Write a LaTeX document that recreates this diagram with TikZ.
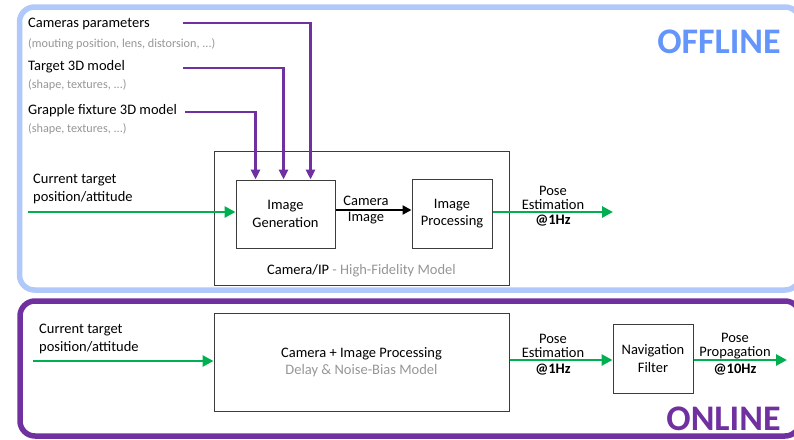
\documentclass[tikz,border=0pt]{standalone}
\usepackage{fontspec}
\setmainfont{Carlito}
\usetikzlibrary{arrows.meta,calc}
\definecolor{offblue}{RGB}{176,200,250}
\definecolor{offtext}{RGB}{100,149,250}
\definecolor{onpurple}{RGB}{112,48,160}
\definecolor{flowgreen}{RGB}{0,176,80}
\definecolor{softgray}{RGB}{150,150,150}
\definecolor{boxgray}{RGB}{60,60,60}
\tikzset{
  txt/.style={font=\fontsize{14.5}{17.5}\selectfont, inner sep=0pt, align=center},
  note/.style={font=\fontsize{12.2}{14}\selectfont, text=softgray, inner sep=0pt, anchor=west},
  block/.style={draw=boxgray, line width=1pt, txt, minimum width=#1},
  frame/.style={line width=5.5pt, rounded corners=15pt},
  banner/.style={font=\fontsize{36}{40}\selectfont\bfseries, inner sep=0pt},
  flow/.style={draw=flowgreen, line width=2.8pt, -{Triangle[length=11pt,width=11pt]}},
  feed/.style={draw=onpurple, line width=2.6pt, -{Triangle[length=10pt,width=9pt]}},
  pipe/.style={draw=black, line width=2.6pt, -{Triangle[length=9pt,width=9pt]}},
  rate/.style={txt, font=\fontsize{14.5}{17.5}\selectfont\bfseries},
  above lbl/.style={txt, font=\fontsize{14.5}{14}\selectfont},
}
\begin{document}
\begin{tikzpicture}[x=1pt,y=-1pt]
\useasboundingbox (0,0) rectangle (794,439);
\begin{scope}
\clip (0,0) rectangle (794,439);
% section frames
\draw[frame, draw=offblue] (19.5,7) rectangle (800,290);
\draw[frame, draw=onpurple] (20,301) rectangle (800,436);
\end{scope}
\node[banner, text=offtext] (offl) at (719,42) {OFFLINE};
\node[banner, text=onpurple] (onl) at (723.5,419) {ONLINE};

% ---------- offline part ----------
\node[txt, anchor=west] (campar) at (28,24) {Cameras parameters};
\node[note] (campar2) at (28,44) {(mouting position, lens, distorsion, ...)};
\node[txt, anchor=west] (tgtmod) at (28,67) {Target 3D model};
\node[note] (tgtmod2) at (28,85) {(shape, textures, ...)};
\node[txt, anchor=west] (grpmod) at (28,111) {Grapple fixture 3D model};
\node[note] (grpmod2) at (28,129) {(shape, textures, ...)};

\draw[draw=boxgray, line width=1pt] (214,151) rectangle (509,285);
\node[txt] (hifi) at (361.5,271) {Camera/IP \textcolor{softgray}{- High-Fidelity Model}};

\node[block=99pt, minimum height=68pt] (gen) at (285.5,214) {Image\\Generation};
\node[block=80pt, minimum height=69pt] (proc) at (452,213.5) {Image\\Processing};

\coordinate (c1) at (183,23);
\coordinate (c2) at (183,68);
\coordinate (c3) at (185,112);
\draw[feed] (c1) -| ($(gen.north west)+(75,0)$);
\draw[feed] (c2) -| ($(gen.north west)+(48,0)$);
\draw[feed] (c3) -| ($(gen.north west)+(20,0)$);

\draw[pipe] (gen.east |- 0,210) -- (proc.west |- 0,210);
\node[txt, font=\fontsize{14.5}{16}\selectfont] (camimg) at (366,210) {Camera\\Image};

\node[txt, anchor=west, align=left] (curA) at (33,189) {Current target\\position/attitude};
\coordinate (inA) at (28,212);
\draw[flow] (inA) -- (inA -| gen.west);

\coordinate (outA) at (613,212);
\draw[flow] (proc.east |- outA) -- (outA);
\node[above lbl] (poseA) at (553,198) {Pose\\Estimation};
\node[rate] (rateA) at (553,221) {@1Hz};

% ---------- online part ----------
\node[txt, anchor=west, align=left] (curB) at (39,339) {Current target\\position/attitude};
\node[block=295pt, minimum height=98pt] (model) at (361.5,362) {};
\node[txt] (modeltxt) at (361.5,362) {Camera + Image Processing\\\textcolor{softgray}{Delay \& Noise-Bias Model}};
\node[block=80pt, minimum height=69pt] (nav) at (653,358.5) {Navigation\\Filter};

\coordinate (inB) at (33,361);
\draw[flow] (inB) -- (inB -| model.west);
\draw[flow] (model.east |- 0,360) -- (nav.west |- 0,360);
\node[above lbl] (poseB) at (553,346) {Pose\\Estimation};
\node[rate] (rateB) at (553,370) {@1Hz};

\coordinate (outB) at (787,360);
\draw[flow] (nav.east |- outB) -- (outB);
\node[above lbl] (propB) at (735,346) {Pose\\Propagation};
\node[rate] (rateC) at (735,370) {@10Hz};
\end{tikzpicture}
\end{document}
